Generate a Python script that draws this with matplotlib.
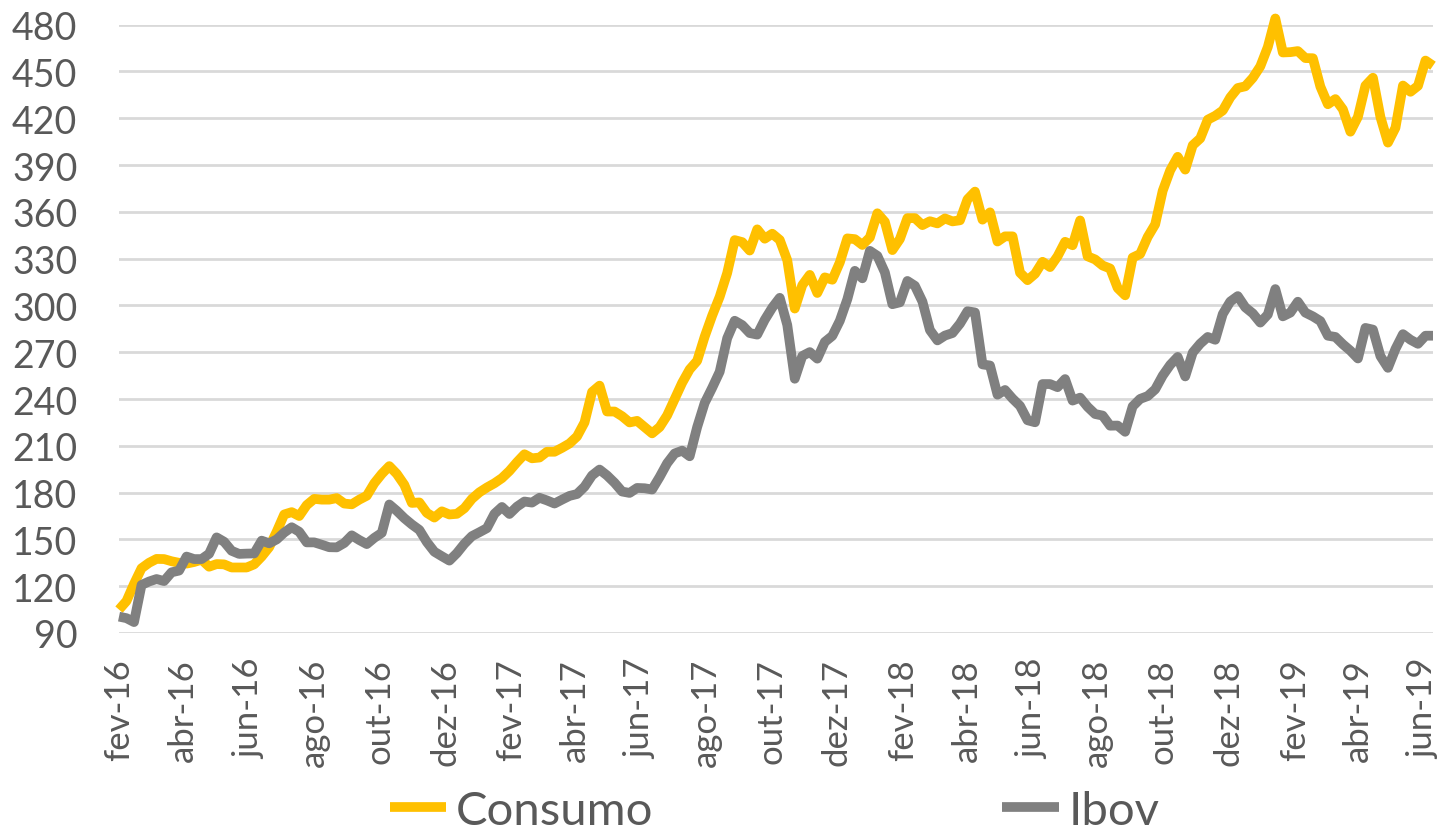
import matplotlib
matplotlib.use("Agg")
from matplotlib import pyplot as plt
import pandas as pd

# weekly index values (base 100 = fev-16)
consumo = [
    105, 110.5, 121.5, 131.5, 135, 137.5, 137.4, 136, 135, 134.5,
    135.5, 137, 132.5, 134.2, 134, 132, 132, 132, 134, 139,
    145, 155, 166, 167.5, 165, 172, 176, 175.5, 175.5, 176.5,
    173, 172.5, 175.5, 178, 186, 192, 197, 192, 185, 173.4,
    173.7, 167, 164, 168, 166, 166.4, 170, 176, 180.2, 183.3,
    186, 189.3, 193.9, 199.5, 204.6, 202, 202.5, 206.2, 206.2, 208.7,
    211.5, 216, 225, 244.5, 248.6, 232, 232, 229, 225, 226,
    222, 218, 222, 229.5, 240, 250.4, 259, 264.5, 280, 293.5,
    305.6, 320.8, 341.9, 340.6, 335.2, 348.8, 342.8, 346, 342, 329,
    298, 313, 319.6, 308, 318, 316.5, 327.6, 343, 342.5, 338.8,
    343.6, 359.1, 353.6, 335.5, 342.6, 356, 356, 351.5, 354, 352.6,
    355.8, 353.9, 354.6, 368, 373, 355, 359.7, 341, 344.3, 344.3,
    321, 316.2, 320.3, 328, 324.6, 331.5, 340.8, 338.6, 354.5, 331.5,
    329.5, 325.6, 323.7, 311.2, 306.5, 330.7, 333, 343.9, 352, 373.5,
    386.6, 395.3, 387.1, 402.7, 407.1, 419.1, 421.6, 425, 433.4, 439.4,
    440.5, 445.9, 453.3, 465.7, 484, 462.2, 462.4, 463.1, 458.6, 458.5,
    440.3, 429, 432.3, 425.7, 411.4, 420.9, 440.9, 446, 420.8, 404.4,
    413.9, 441, 437, 440.8, 457, 453.7,
]

ibov = [
    100.5, 99.5, 97, 120.8, 123, 124.6, 123.3, 128.9, 130, 139,
    137.4, 137.4, 140.8, 151.3, 148.5, 142.7, 140.7, 140.9, 141, 149.2,
    147.5, 150, 154.4, 157.8, 154.9, 148.1, 148.1, 146.6, 145, 144.9,
    147.7, 152.6, 149.6, 147, 151, 154.2, 172.4, 168.3, 163.6, 159.6,
    156.1, 148.3, 142.1, 139.2, 136.4, 141.2, 147.2, 152.1, 154.6, 157.2,
    166.4, 170.8, 166.3, 171, 174.3, 173.6, 176.7, 175, 173, 175.5,
    177.9, 179.1, 183.8, 191, 194.8, 191, 186.3, 180.7, 179.8, 183,
    182.8, 182, 190, 198.8, 205.1, 206.9, 203.3, 222, 237.5, 247.2,
    257.5, 279, 290.2, 287.4, 282.3, 281.3, 290.8, 298.6, 304.9, 287.5,
    253, 267.6, 270.1, 265.9, 276.6, 280.5, 290.2, 304, 322.2, 317.4,
    335, 331.8, 321.2, 300.8, 302, 315.7, 312.6, 302.5, 284.2, 277.6,
    280.7, 282.3, 288.3, 296.3, 295.5, 262.2, 261.5, 242.8, 245.8, 240.3,
    235.6, 226.4, 225.1, 249.6, 249.6, 247.6, 252.8, 239, 240.9, 235,
    230.4, 229.4, 222.9, 223, 219, 235.3, 240.1, 241.9, 246.2, 255,
    261.9, 267, 254.5, 269.8, 275.5, 279.8, 278, 294.5, 302.5, 306,
    298.8, 294.9, 289, 294.2, 310.5, 293, 295.4, 302.4, 295.4, 293,
    290, 280.6, 279.8, 275.1, 271, 266, 285.6, 284.5, 267.5, 260,
    272.1, 281.6, 278, 275.4, 280.6, 280.6,
]

meses = ["jan", "fev", "mar", "abr", "mai", "jun",
         "jul", "ago", "set", "out", "nov", "dez"]

datas = pd.date_range("2016-02-05", periods=len(consumo), freq="7D")
ticks = [datas[0] + pd.DateOffset(months=2 * k) for k in range(21)]
tick_labels = [f"{meses[d.month - 1]}-{d.year % 100:02d}" for d in ticks]

plt.rcParams["font.family"] = ["Lato", "DejaVu Sans"]

fig = plt.figure(figsize=(14.37, 8.37), dpi=100)
ax = fig.add_axes([119 / 1437, 1 - 634 / 837, (1433 - 119) / 1437, (634 - 25.7) / 837])

ax.plot(datas, consumo, color="#FFC000", lw=7, label="Consumo",
        solid_joinstyle="round", solid_capstyle="butt", clip_on=False, zorder=3)
ax.plot(datas, ibov, color="#808080", lw=7, label="Ibov",
        solid_joinstyle="round", solid_capstyle="butt", clip_on=False, zorder=3)

ax.set_xlim(datas[0], datas[-1])
ax.set_ylim(90, 480)
ax.set_yticks(range(90, 481, 30))
ax.set_xticks(ticks)
ax.set_xticklabels(tick_labels, rotation=90)

ax.grid(axis="y", color="#D9D9D9", lw=2)
ax.set_axisbelow(True)
for s in ax.spines.values():
    s.set_visible(False)
ax.tick_params(axis="y", length=0, pad=30, labelsize=27, labelcolor="#595959")
ax.tick_params(axis="x", length=0, pad=18, labelsize=25, labelcolor="#595959")

leg = fig.legend(loc="center", bbox_to_anchor=(0.539, 0.03), ncol=2, frameon=False,
                 fontsize=34, handlelength=1.2, handletextpad=0.2,
                 columnspacing=7.4, borderpad=0)
for t in leg.get_texts():
    t.set_color("#595959")

fig.savefig("out.png", dpi=100)
